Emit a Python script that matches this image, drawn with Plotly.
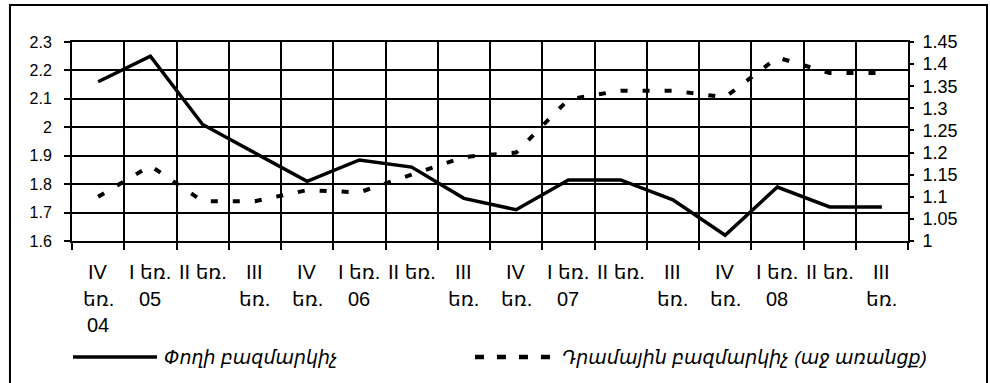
import plotly.graph_objects as go

# Quarter labels, one list of text lines per quarter (IV 2004 ... III 2008)
quarter_lines = [
    ["IV", "եռ.", "04"], ["I եռ.", "05"], ["II եռ."], ["III", "եռ."],
    ["IV", "եռ."], ["I եռ.", "06"], ["II եռ."], ["III", "եռ."],
    ["IV", "եռ."], ["I եռ.", "07"], ["II եռ."], ["III", "եռ."],
    ["IV", "եռ."], ["I եռ.", "08"], ["II եռ."], ["III", "եռ."],
]

# Money multiplier (left axis)
money_mult = [2.16, 2.25, 2.01, 1.91, 1.81, 1.885, 1.86, 1.75,
              1.71, 1.815, 1.815, 1.745, 1.62, 1.79, 1.72, 1.72]
# Dram multiplier (right axis)
dram_mult = [1.10, 1.17, 1.09, 1.09, 1.115, 1.11, 1.15, 1.19,
             1.20, 1.32, 1.34, 1.34, 1.325, 1.415, 1.38, 1.38]

legend_names = ["Փողի բազմարկիչ", "Դրամային բազմարկիչ (աջ առանցք)"]

FONT = "Liberation Sans, Arial, DejaVu Sans, sans-serif"
x = list(range(len(quarter_lines)))

fig = go.Figure()
fig.add_trace(go.Scatter(
    x=x, y=money_mult, mode="lines", name=legend_names[0],
    line=dict(color="black", width=3.5), showlegend=False,
))
fig.add_trace(go.Scatter(
    x=x, y=dram_mult, mode="lines", name=legend_names[1], yaxis="y2",
    line=dict(color="black", width=4, dash="7px,15px"), showlegend=False,
))

fig.update_layout(
    width=990, height=383,
    margin=dict(l=72, r=82, t=42, b=142),
    paper_bgcolor="white", plot_bgcolor="white",
    font=dict(family=FONT, size=16, color="black"),
    xaxis=dict(
        range=[-0.5, len(x) - 0.5], tickmode="linear", tick0=-0.5, dtick=1,
        showticklabels=False, ticks="outside", ticklen=7, tickwidth=2,
        tickcolor="black", showgrid=True, gridcolor="black", gridwidth=2,
        showline=True, mirror=True, linecolor="black", linewidth=2,
        zeroline=False,
    ),
    yaxis=dict(
        range=[1.6, 2.3], tickmode="array",
        tickvals=[1.6, 1.7, 1.8, 1.9, 2.0, 2.1, 2.2, 2.3],
        ticktext=["1.6", "1.7", "1.8", "1.9", "2", "2.1", "2.2", "2.3"],
        ticks="outside", ticklen=6, tickwidth=2, tickcolor="black",
        ticklabelstandoff=9,
        tickfont=dict(family=FONT, size=16, color="black"),
        showgrid=True, gridcolor="black", gridwidth=2,
        showline=True, linecolor="black", linewidth=2, zeroline=False,
    ),
    yaxis2=dict(
        range=[1.0, 1.45], overlaying="y", side="right", anchor="x",
        tickmode="array",
        tickvals=[1.0, 1.05, 1.1, 1.15, 1.2, 1.25, 1.3, 1.35, 1.4, 1.45],
        ticktext=["1", "1.05", "1.1", "1.15", "1.2", "1.25", "1.3", "1.35", "1.4", "1.45"],
        ticks="outside", ticklen=4, tickwidth=2, tickcolor="black",
        ticklabelstandoff=5,
        tickfont=dict(family=FONT, size=18, color="black"),
        showgrid=False, showline=True, linecolor="black", linewidth=2,
        zeroline=False,
    ),
    yaxis3=dict(
        range=[1.0, 1.45], overlaying="y", side="right", anchor="x",
        tickmode="array",
        tickvals=[1.0, 1.05, 1.1, 1.15, 1.2, 1.25, 1.3, 1.35, 1.4, 1.45],
        ticks="inside", ticklen=3, tickwidth=2, tickcolor="black",
        showticklabels=False, showgrid=False, showline=False, zeroline=False,
    ),
)

# Category labels below the axis, one annotation per text line
line_y = [-0.1558, -0.2915, -0.4222]
annotations = []
for i, lines in enumerate(quarter_lines):
    for k, txt in enumerate(lines):
        annotations.append(dict(
            x=i, y=line_y[k], xref="x", yref="paper", text=txt,
            showarrow=False, xanchor="center", yanchor="middle",
            font=dict(family=FONT, size=20, color="black"),
        ))

# Legend drawn below the chart
leg_y = -0.583
for name, xpos in zip(legend_names, [0.1077, 0.5837]):
    annotations.append(dict(x=xpos, y=leg_y, xref="paper", yref="paper",
                            text=name, showarrow=False,
                            xanchor="left", yanchor="middle",
                            font=dict(family=FONT, size=19, color="black",
                                      style="italic")))
fig.update_layout(annotations=annotations)

shapes = [
    dict(type="line", xref="paper", yref="paper", x0=0.0012, x1=0.1017,
         y0=leg_y, y1=leg_y, line=dict(color="black", width=3.5)),
    dict(type="line", xref="paper", yref="paper", x0=0.482, x1=0.578,
         y0=leg_y, y1=leg_y, line=dict(color="black", width=4.5, dash="9px,13px")),
    # outer frame
    dict(type="rect", xref="paper", yref="paper", x0=-0.0742, x1=1.0945,
         y0=-0.73, y1=1.186, line=dict(color="black", width=2)),
]
fig.update_layout(shapes=shapes)

fig.write_html("out.html")
